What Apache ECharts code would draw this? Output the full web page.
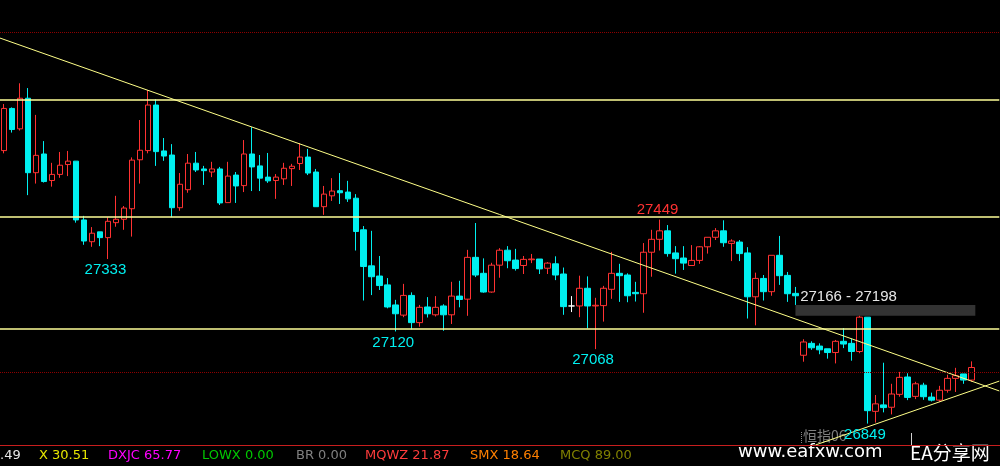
<!DOCTYPE html>
<html>
<head>
<meta charset="utf-8">
<script src="https://cdn.jsdelivr.net/npm/echarts@6/dist/echarts.min.js"></script>
<style>
html,body{margin:0;padding:0;background:#000;}
#chart{width:1000px;height:466px;}
</style>
</head>
<body>
<div id="chart"></div>
<script>
// ---------- data ----------
const opens = [27652,27776,27716,27806,27587,27642,27564,27582,27611,27621,
27448,27384,27413,27396,27440,27450,27481,27625,27652,27786,
27651,27639,27484,27537,27615,27598,27589,27598,27499,27580,
27549,27642,27607,27574,27564,27569,27599,27614,27633,27589,
27487,27519,27534,27530,27512,27419,27313,27283,27257,27198,
27168,27226,27146,27192,27169,27195,27169,27224,27215,27338,
27291,27236,27315,27359,27330,27314,27331,27333,27306,27319,
27289,27195,27195,27247,27195,27196,27244,27291,27286,27235,
27231,27353,27391,27416,27351,27336,27314,27329,27369,27397,
27416,27379,27383,27351,27222,27276,27237,27344,27285,27232,
27050,27085,27077,27069,27058,27091,27085,27061,27162,26885,
26904,26897,26935,26986,26929,26962,26927,26918,26947,26982,
26995,26977];
const closes = [27776,27714,27806,27587,27638,27561,27582,27609,27621,27448,
27386,27409,27396,27444,27450,27483,27624,27653,27786,27649,
27636,27484,27553,27615,27595,27593,27598,27498,27577,27548,
27642,27604,27571,27563,27574,27600,27606,27633,27586,27487,
27524,27533,27528,27510,27414,27311,27281,27255,27192,27172,
27226,27146,27191,27172,27191,27169,27224,27214,27338,27286,
27236,27315,27359,27328,27305,27332,27333,27304,27321,27286,
27193,27195,27247,27195,27197,27247,27291,27284,27225,27231,
27353,27391,27416,27349,27334,27321,27329,27369,27397,27416,
27381,27386,27349,27222,27276,27237,27344,27284,27231,27225,
27089,27072,27066,27058,27091,27083,27061,27162,26887,26907,
26896,26936,26985,26926,26966,26928,26918,26947,26982,26990,
26977,27014];
const lows = [27644,27705,27711,27521,27555,27558,27546,27572,27577,27440,
27375,27369,27371,27333,27428,27419,27399,27555,27644,27607,
27622,27456,27475,27528,27589,27551,27574,27492,27499,27498,
27530,27533,27533,27557,27510,27551,27548,27595,27580,27487,
27463,27504,27495,27501,27358,27211,27227,27242,27188,27120,
27162,27126,27134,27161,27164,27122,27142,27191,27166,27280,
27234,27234,27278,27306,27299,27289,27321,27289,27289,27271,
27169,27177,27162,27129,27068,27149,27216,27207,27206,27208,
27175,27281,27358,27340,27290,27301,27313,27319,27349,27389,
27369,27327,27327,27158,27138,27211,27225,27257,27207,27198,
27031,27066,27053,27040,27026,27071,27034,27056,26849,26852,
26882,26876,26928,26918,26921,26919,26914,26913,26940,26942,
26966,26972];
const highs = [27789,27779,27850,27836,27757,27680,27616,27648,27651,27621,
27460,27427,27413,27456,27519,27489,27632,27742,27830,27803,
27689,27671,27586,27642,27648,27607,27619,27604,27619,27589,
27683,27721,27639,27645,27583,27616,27613,27674,27657,27598,
27548,27571,27586,27563,27524,27430,27416,27342,27277,27213,
27260,27235,27198,27221,27224,27200,27266,27269,27360,27439,
27335,27322,27365,27371,27363,27342,27348,27333,27324,27341,
27308,27224,27284,27282,27219,27254,27354,27319,27291,27266,
27380,27419,27449,27433,27371,27371,27374,27371,27397,27424,
27447,27391,27389,27368,27293,27286,27344,27401,27295,27251,
27097,27091,27085,27069,27095,27130,27099,27166,27162,26933,
27028,26966,27001,26997,26972,26969,26940,26960,26993,27013,
26995,27032];
const slotCount = 125;                       // bar slots across the window
const slots = Array.from({length: slotCount}, (_, i) => String(i));
const levelLines = [27803, 27456, 27129];    // solid yellow levels
const gridLevels = [28000, 27000];           // dotted red price grid
const downTrend = [[-0.5, 27983], [124.5, 26945]];
const upTrend = [[101.5, 26786], [124.5, 26974]];
const gapFrom = 99, gapTo = 121.5, gapLow = 27166, gapHigh = 27198;
const lowMarks = [[13, 27333], [49, 27120], [74, 27068], [108, 26849]];
const highMarks = [[82, 27449]];
const indicatorNames = ['', 'X', 'DXJC', 'LOWX', 'BR', 'MQWZ', 'SMX', 'MCQ'];
const indicatorValues = ['.49', '30.51', '65.77', '0.00', '0.00', '21.87', '18.64', '89.00'];
const instrument = '恒指06';
const siteText = 'www.eafxw.com';
const siteName = 'EA分享网';
const priceMin = 26786, priceMax = 28095;

// ---------- styles ----------
const UP = '#ff3232', DOWN = '#00f0f0', EVEN = '#ffffff';
const indicatorColors = ['#e6e6e6', '#e6e600', '#ff00ff', '#00c800', '#808080', '#ff3c3c', '#ff8000', '#808000'];
const indicatorX = [0, 39, 108, 202, 296, 365, 470, 560];
const labelFont = '"Liberation Sans", Arial, sans-serif';

const candleData = opens.map((o, i) => {
  const item = {value: [o, closes[i], lows[i], highs[i]]};
  if (o === closes[i]) {
    item.itemStyle = {color: EVEN, color0: EVEN, borderColor: EVEN, borderColor0: EVEN};
  }
  return item;
});

const markPoints = [];
lowMarks.forEach(([i, v]) => markPoints.push({
  coord: [i, v], value: v,
  label: {formatter: String(v), color: DOWN, offset: [-2.5, 11]}
}));
highMarks.forEach(([i, v]) => markPoints.push({
  coord: [i, v], value: v,
  label: {formatter: String(v), color: UP, offset: [-2, -10]}
}));
markPoints.push({
  coord: [gapFrom, gapHigh], value: gapHigh,
  label: {formatter: gapLow + ' - ' + gapHigh, color: '#e6e6e6', align: 'left', offset: [4.7, -8.5]}
});

const graphics = [];
graphics.push({type: 'line', silent: true, z: 100, shape: {x1: 0, y1: 445.5, x2: 1000, y2: 445.5},
  style: {stroke: '#c81e1e', lineWidth: 1}});
indicatorNames.forEach((n, i) => graphics.push({
  type: 'text', x: indicatorX[i], y: 456, silent: true,
  style: {text: (n ? n + ' ' : '') + indicatorValues[i], fill: indicatorColors[i],
          font: '13px "DejaVu Sans"', verticalAlign: 'middle', align: 'left'}
}));
graphics.push({type: 'text', x: 803, y: 436, z: -1, silent: true,
  style: {text: instrument, fill: '#7f7f7f', font: '14px "Noto Sans CJK SC"', verticalAlign: 'middle'}});
graphics.push({type: 'line', silent: true, shape: {x1: 801.5, y1: 432, x2: 801.5, y2: 444},
  style: {stroke: '#8a8a8a', lineWidth: 1, lineDash: [1, 1]}});
graphics.push({type: 'line', silent: true, shape: {x1: 911.5, y1: 433, x2: 911.5, y2: 445},
  style: {stroke: '#d0d0d0', lineWidth: 1}});
graphics.push({type: 'text', x: 738, y: 452, silent: true,
  style: {text: siteText, fill: '#ffffff', font: '18px "DejaVu Sans"', verticalAlign: 'middle'}});
graphics.push({type: 'text', x: 910, y: 452.5, silent: true,
  style: {text: siteName, fill: '#ffffff', font: '19px "Noto Sans CJK SC"', verticalAlign: 'middle'}});

const chart = echarts.init(document.getElementById('chart'), null, {renderer: 'canvas'});
chart.setOption({
  backgroundColor: '#000000',
  animation: false,
  grid: {left: -0.7, top: 0, width: 1000, height: 445, containLabel: false},
  xAxis: [
    {type: 'category', data: slots, boundaryGap: true,
     axisLine: {show: false}, axisTick: {show: false}, axisLabel: {show: false}, splitLine: {show: false}},
    {type: 'value', min: -0.5, max: slotCount - 0.5, show: false}
  ],
  yAxis: {type: 'value', min: priceMin, max: priceMax, show: false, scale: true},
  series: [
    {
      type: 'candlestick', name: 'HSI', xAxisIndex: 0, yAxisIndex: 0,
      data: candleData, barWidth: 6, silent: true, z: 2,
      itemStyle: {color: '#000000', color0: DOWN, borderColor: UP, borderColor0: DOWN,
                  borderColorDoji: EVEN, borderWidth: 1},
      markLine: {
        silent: true, symbol: ['none', 'none'], animation: false,
        label: {show: false},
        data: levelLines.map(v => ({yAxis: v, lineStyle: {color: '#ffff99', width: 1.5, type: 'solid'}}))
          .concat(gridLevels.map(v => ({yAxis: v, lineStyle: {color: '#8c0000', width: 1, type: 'dotted'}})))
      }
    },
    {
      type: 'line', name: 'down trend', xAxisIndex: 1, yAxisIndex: 0,
      data: downTrend, symbol: 'none', silent: true, z: 4,
      lineStyle: {color: '#ffff88', width: 1},
      markArea: {
        silent: true, z: 1,
        itemStyle: {color: '#333333', opacity: 1},
        data: [[{coord: [gapFrom, gapHigh]}, {coord: [gapTo, gapLow]}]]
      },
      markPoint: {
        silent: true, symbol: 'circle', symbolSize: 1,
        itemStyle: {color: 'rgba(0,0,0,0)'},
        label: {show: true, position: 'inside', fontSize: 15, fontFamily: labelFont},
        data: markPoints
      }
    },
    {
      type: 'line', name: 'up trend', xAxisIndex: 1, yAxisIndex: 0,
      data: upTrend, symbol: 'none', silent: true, z: 4,
      lineStyle: {color: '#ffff88', width: 1}
    }
  ],
  graphic: graphics
});
</script>
</body>
</html>
